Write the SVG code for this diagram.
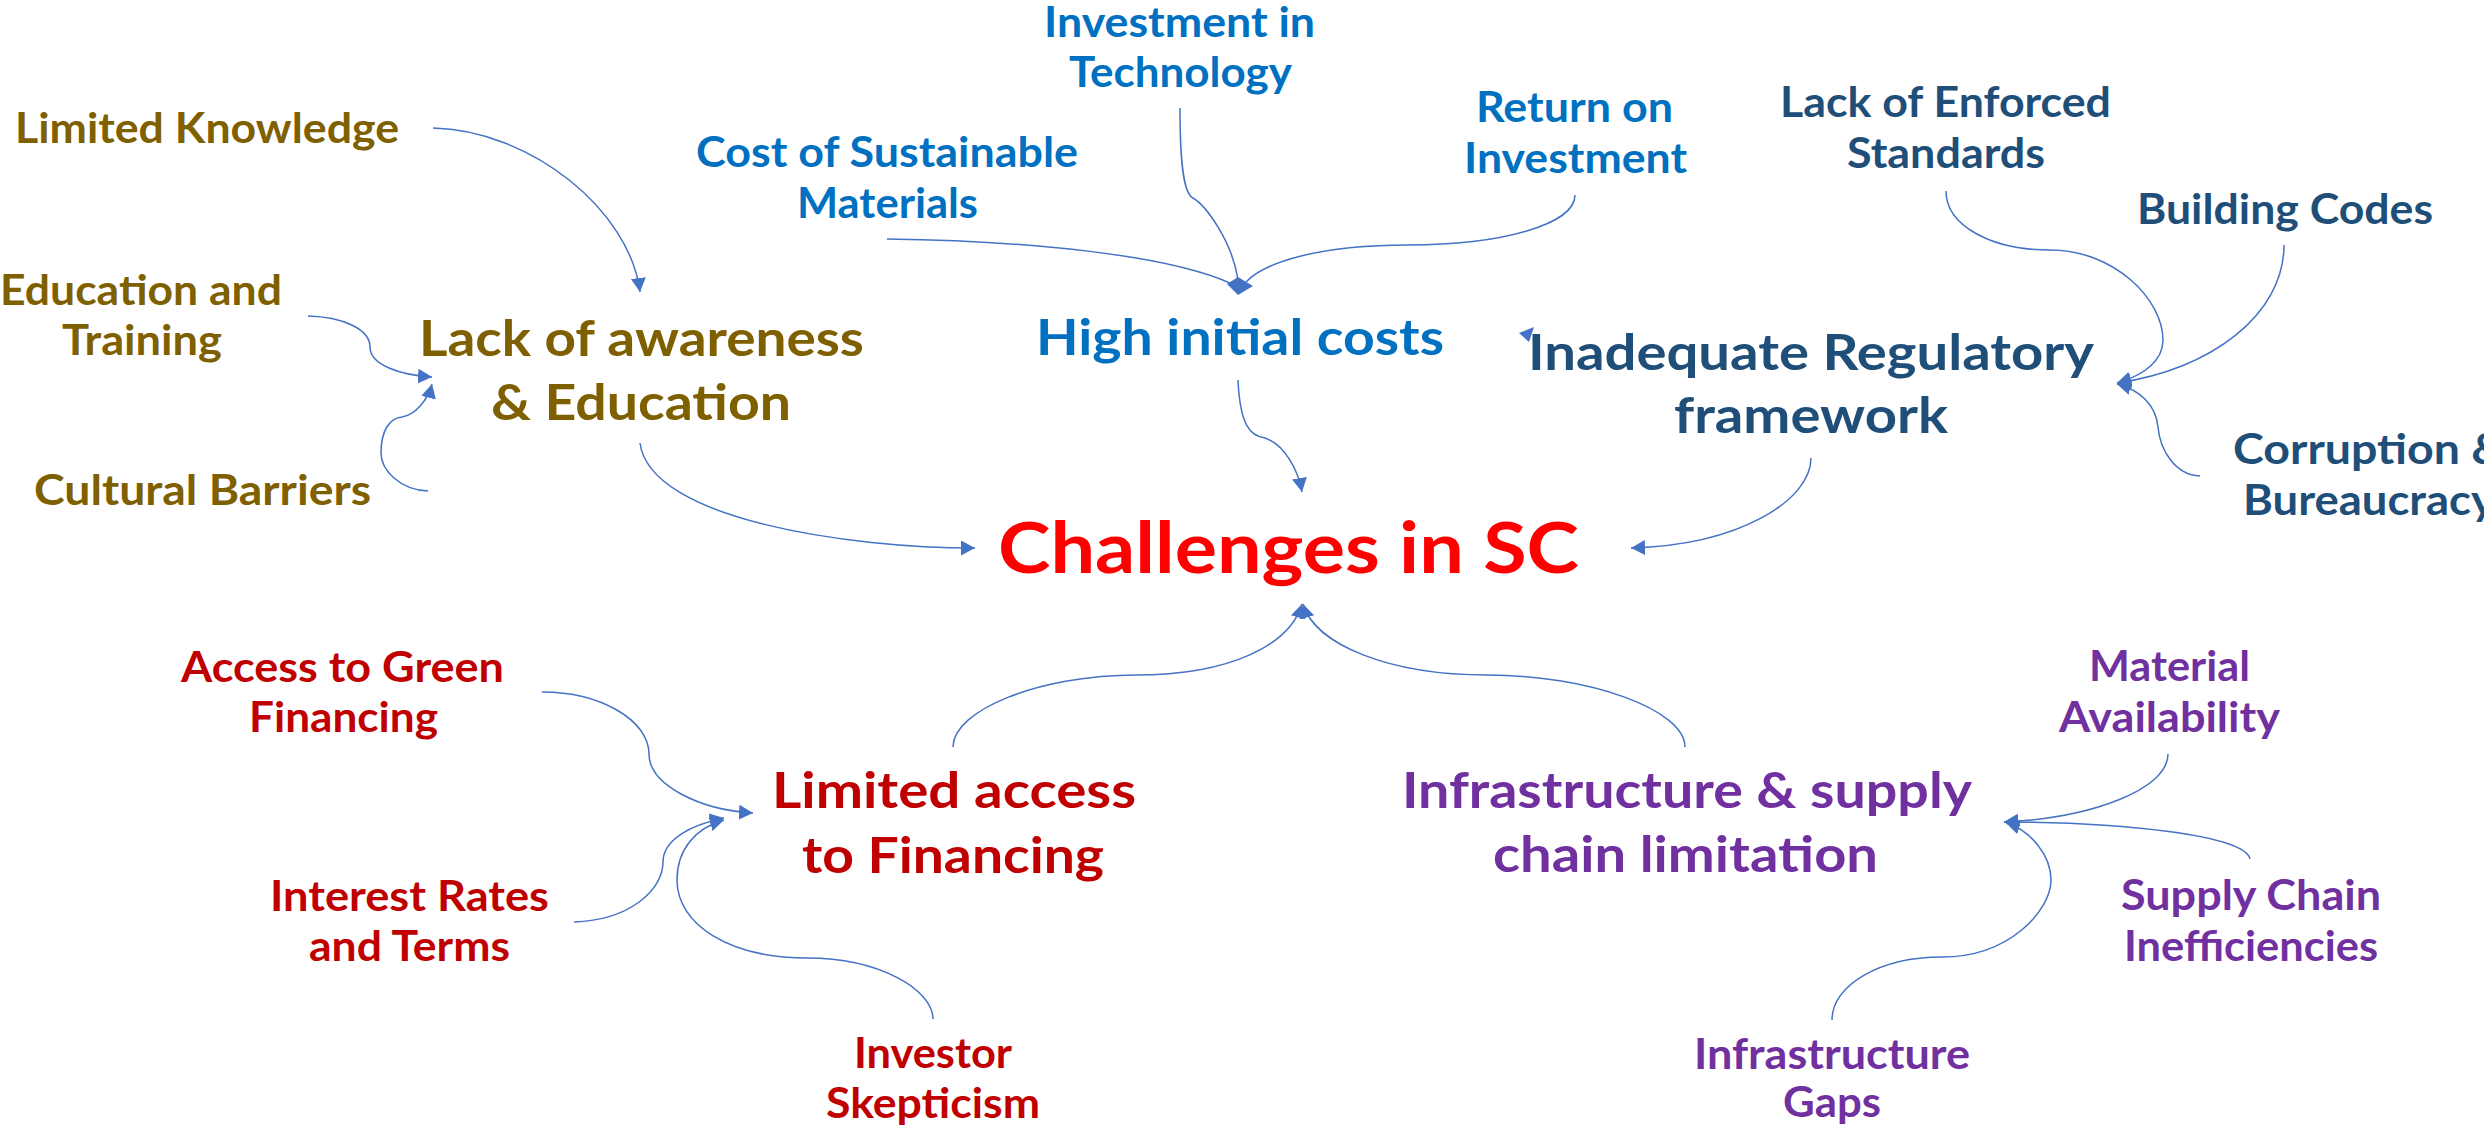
<svg xmlns="http://www.w3.org/2000/svg" width="2484" height="1138" viewBox="0 0 2484 1138">
<style>
text{font-family:"Lato","Liberation Sans",sans-serif;font-weight:bold}
.s{font-size:42px}
.m{font-size:50px}
.c{font-size:70px;fill:#FF0000}
.ol{fill:#7F6000}
.bl{fill:#0070C0}
.db{fill:#1F4E79}
.dr{fill:#C00000}
.pu{fill:#7030A0}
.ln{fill:none;stroke:#4472C4;stroke-width:1.5}
.ah{fill:#4472C4}
</style>
<defs>
<marker id="arr" markerUnits="userSpaceOnUse" markerWidth="16" markerHeight="16" refX="14" refY="7.5" orient="auto">
<path d="M0,0 L14,7.5 L0,15 Z" fill="#4472C4"/>
</marker>
</defs>
<rect width="2484" height="1138" fill="#FFFFFF"/>
<g id="connectors">
<path class="ln" marker-end="url(#arr)" d="M433,128 C530,130 630,210 640,292"/>
<path class="ln" marker-end="url(#arr)" d="M308,316 C345,317 370,330 370,347 C370,365 400,375 432,377"/>
<path class="ln" marker-end="url(#arr)" d="M428,491 C400,490 381,470 381,453 C381,430 390,418 402,417 C415,415 428,400 432,384"/>
<path class="ln" marker-end="url(#arr)" d="M640,443 C650,520 850,548 975,548"/>
<path class="ln" d="M887,239 C1030,241 1170,255 1232,284"/>
<path class="ln" d="M1180,108 C1180,160 1183,193 1193,198 C1205,205 1232,240 1238,280"/>
<path class="ln" d="M1575,195 C1575,225 1500,245 1408,245 C1320,245 1265,262 1246,282"/>
<polygon class="ah" points="1227,284 1238,277 1253,286 1238,295"/>
<path class="ln" marker-end="url(#arr)" d="M1238,380 C1240,425 1250,436 1265,438 C1285,445 1298,470 1302,492"/>
<polygon class="ah" points="1519,333 1534,327 1529,342"/>
<path class="ln" marker-end="url(#arr)" d="M1811,458 C1811,500 1740,545 1631,548"/>
<path class="ln" marker-end="url(#arr)" d="M1946,191 C1946,225 1990,250 2050,250 C2115,250 2163,300 2163,340 C2163,360 2145,375 2117,383"/>
<path class="ln" marker-end="url(#arr)" d="M2284,245 C2284,315 2210,370 2117,383"/>
<path class="ln" marker-end="url(#arr)" d="M2200,476 C2175,475 2160,450 2158,427 C2156,405 2140,390 2117,384"/>
<path class="ln" marker-end="url(#arr)" d="M542,692 C600,692 649,720 649,754 C649,785 700,810 753,813"/>
<path class="ln" marker-end="url(#arr)" d="M574,922 C630,920 663,890 663,862 C663,840 690,825 724,818"/>
<path class="ln" marker-end="url(#arr)" d="M933,1019 C933,990 880,958 807,958 C730,958 677,925 677,880 C677,850 695,828 724,820"/>
<path class="ln" marker-end="url(#arr)" d="M953,747 C953,710 1040,675 1136,675 C1230,675 1290,645 1302,604"/>
<path class="ln" marker-end="url(#arr)" d="M1685,747 C1685,710 1590,675 1487,675 C1390,675 1315,645 1303,604"/>
<path class="ln" marker-end="url(#arr)" d="M2168,754 C2168,790 2090,818 2004,822"/>
<path class="ln" marker-end="url(#arr)" d="M2250,859 C2245,835 2120,822 2004,822"/>
<path class="ln" marker-end="url(#arr)" d="M1832,1020 C1832,985 1880,957 1942,957 C2010,957 2051,910 2051,880 C2051,855 2030,830 2006,823"/>
</g>
<g id="center">
<text class="c" x="998" y="573" textLength="581" lengthAdjust="spacingAndGlyphs">Challenges in SC</text>
</g>
<g id="lack-awareness">
<text class="m ol" x="419" y="356" textLength="445" lengthAdjust="spacingAndGlyphs">Lack of awareness</text>
<text class="m ol" x="491" y="420" textLength="300" lengthAdjust="spacingAndGlyphs">&amp; Education</text>
</g>
<g id="limited-knowledge">
<text class="s ol" x="15" y="143" textLength="384" lengthAdjust="spacingAndGlyphs">Limited Knowledge</text>
</g>
<g id="education-training">
<text class="s ol" x="0" y="305" textLength="282" lengthAdjust="spacingAndGlyphs">Education and</text>
<text class="s ol" x="62" y="355" textLength="160" lengthAdjust="spacingAndGlyphs">Training</text>
</g>
<g id="cultural-barriers">
<text class="s ol" x="34" y="505" textLength="337" lengthAdjust="spacingAndGlyphs">Cultural Barriers</text>
</g>
<g id="high-initial-costs">
<text class="m bl" x="1036" y="355" textLength="408" lengthAdjust="spacingAndGlyphs">High initial costs</text>
</g>
<g id="cost-materials">
<text class="s bl" x="696" y="167" textLength="382" lengthAdjust="spacingAndGlyphs">Cost of Sustainable</text>
<text class="s bl" x="797" y="218" textLength="181" lengthAdjust="spacingAndGlyphs">Materials</text>
</g>
<g id="investment-technology">
<text class="s bl" x="1044" y="37" textLength="271" lengthAdjust="spacingAndGlyphs">Investment in</text>
<text class="s bl" x="1069" y="87" textLength="223" lengthAdjust="spacingAndGlyphs">Technology</text>
</g>
<g id="return-investment">
<text class="s bl" x="1476" y="122" textLength="197" lengthAdjust="spacingAndGlyphs">Return on</text>
<text class="s bl" x="1464" y="173" textLength="223" lengthAdjust="spacingAndGlyphs">Investment</text>
</g>
<g id="regulatory">
<text class="m db" x="1528" y="370" textLength="566" lengthAdjust="spacingAndGlyphs">Inadequate Regulatory</text>
<text class="m db" x="1674" y="433" textLength="274" lengthAdjust="spacingAndGlyphs">framework</text>
</g>
<g id="enforced-standards">
<text class="s db" x="1780" y="117" textLength="331" lengthAdjust="spacingAndGlyphs">Lack of Enforced</text>
<text class="s db" x="1847" y="168" textLength="198" lengthAdjust="spacingAndGlyphs">Standards</text>
</g>
<g id="building-codes">
<text class="s db" x="2137" y="224" textLength="296" lengthAdjust="spacingAndGlyphs">Building Codes</text>
</g>
<g id="corruption">
<text class="s db" x="2233" y="464" textLength="272" lengthAdjust="spacingAndGlyphs">Corruption &amp;</text>
<text class="s db" x="2243" y="515" textLength="252" lengthAdjust="spacingAndGlyphs">Bureaucracy</text>
</g>
<g id="limited-financing">
<text class="m dr" x="772" y="808" textLength="364" lengthAdjust="spacingAndGlyphs">Limited access</text>
<text class="m dr" x="802" y="873" textLength="302" lengthAdjust="spacingAndGlyphs">to Financing</text>
</g>
<g id="green-financing">
<text class="s dr" x="181" y="682" textLength="323" lengthAdjust="spacingAndGlyphs">Access to Green</text>
<text class="s dr" x="249" y="732" textLength="189" lengthAdjust="spacingAndGlyphs">Financing</text>
</g>
<g id="interest-rates">
<text class="s dr" x="270" y="911" textLength="279" lengthAdjust="spacingAndGlyphs">Interest Rates</text>
<text class="s dr" x="309" y="961" textLength="201" lengthAdjust="spacingAndGlyphs">and Terms</text>
</g>
<g id="investor-skepticism">
<text class="s dr" x="854" y="1068" textLength="158" lengthAdjust="spacingAndGlyphs">Investor</text>
<text class="s dr" x="826" y="1118" textLength="214" lengthAdjust="spacingAndGlyphs">Skepticism</text>
</g>
<g id="infrastructure-supply">
<text class="m pu" x="1402" y="808" textLength="570" lengthAdjust="spacingAndGlyphs">Infrastructure &amp; supply</text>
<text class="m pu" x="1493" y="872" textLength="385" lengthAdjust="spacingAndGlyphs">chain limitation</text>
</g>
<g id="material-availability">
<text class="s pu" x="2089" y="681" textLength="161" lengthAdjust="spacingAndGlyphs">Material</text>
<text class="s pu" x="2059" y="732" textLength="221" lengthAdjust="spacingAndGlyphs">Availability</text>
</g>
<g id="supply-chain">
<text class="s pu" x="2121" y="910" textLength="260" lengthAdjust="spacingAndGlyphs">Supply Chain</text>
<text class="s pu" x="2124" y="961" textLength="254" lengthAdjust="spacingAndGlyphs">Inefficiencies</text>
</g>
<g id="infrastructure-gaps">
<text class="s pu" x="1694" y="1069" textLength="276" lengthAdjust="spacingAndGlyphs">Infrastructure</text>
<text class="s pu" x="1783" y="1117" textLength="98" lengthAdjust="spacingAndGlyphs">Gaps</text>
</g>
</svg>
